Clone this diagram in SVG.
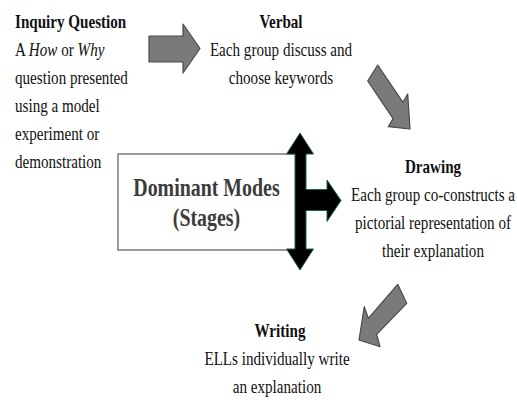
<svg xmlns="http://www.w3.org/2000/svg" width="517" height="402" viewBox="0 0 517 402">
<style>
.t{font-family:"Liberation Serif","Times New Roman",serif;font-size:19.5px;fill:#111}
.b{font-weight:bold}
.c{text-anchor:middle}
.dm{font-family:"Liberation Serif","Times New Roman",serif;font-size:25.5px;font-weight:bold;fill:#3c3c3c;text-anchor:middle}
.ga{fill:#7a7a7a;stroke:#4a4a4a;stroke-width:1.2;stroke-linejoin:round}
.box{fill:#fff;stroke:#7a7a7a;stroke-width:1.5}
.cross{fill:#000;stroke:#1d5e58;stroke-width:1}
</style>
<rect width="517" height="402" fill="#fff"/>
<g id="inquiry">
<text class="t b" transform="translate(15,28) scale(0.775,1)">Inquiry Question</text>
<text class="t" transform="translate(15,56) scale(0.775,1)">A <tspan font-style="italic">How</tspan> or <tspan font-style="italic">Why</tspan></text>
<text class="t" transform="translate(15,84) scale(0.775,1)">question presented</text>
<text class="t" transform="translate(15,112) scale(0.775,1)">using a model</text>
<text class="t" transform="translate(15,140) scale(0.775,1)">experiment or</text>
<text class="t" transform="translate(15,168) scale(0.775,1)">demonstration</text>
</g>
<g id="verbal">
<text class="t b c" transform="translate(281,28) scale(0.775,1)">Verbal</text>
<text class="t c" transform="translate(281,56) scale(0.775,1)">Each group discuss and</text>
<text class="t c" transform="translate(281,84) scale(0.775,1)">choose keywords</text>
</g>
<g id="drawing">
<text class="t b c" transform="translate(433,173) scale(0.775,1)">Drawing</text>
<text class="t c" transform="translate(433,201) scale(0.775,1)">Each group co-constructs a</text>
<text class="t c" transform="translate(433,229) scale(0.775,1)">pictorial representation of</text>
<text class="t c" transform="translate(433,257) scale(0.775,1)">their explanation</text>
</g>
<g id="writing">
<text class="t b c" transform="translate(280,337) scale(0.775,1)">Writing</text>
<text class="t c" transform="translate(277,365) scale(0.775,1)">ELLs individually write</text>
<text class="t c" transform="translate(277,393) scale(0.775,1)">an explanation</text>
</g>
<g id="dominant-modes">
<rect class="box" x="118" y="154" width="180" height="96"/>
<text class="dm" transform="translate(206.5,196) scale(0.78,1)">Dominant Modes</text>
<text class="dm" transform="translate(206.5,226) scale(0.78,1)">(Stages)</text>
</g>
<g id="connectors">
<polygon class="ga" points="149,36 183,36 183,24 200,48.5 183,73 183,62 149,62"/>
<polygon class="ga" points="367.7,81 377.7,65 402.8,102.2 407.7,94 410,129 388.3,126.7 393.1,118.6"/>
<polygon class="ga" points="397.7,284.3 406.7,303.3 376.7,334.3 380,346.7 359,340 364.3,306.7 368.3,318.3"/>
<polygon class="cross" points="300,133 313.5,154 306,154 306,189.5 327,189.5 327,180 341,200.5 327,221.5 327,210.5 306,210.5 306,249 313.5,249 300,270 286.5,249 295,249 295,154 286.5,154"/>
</g>
</svg>
